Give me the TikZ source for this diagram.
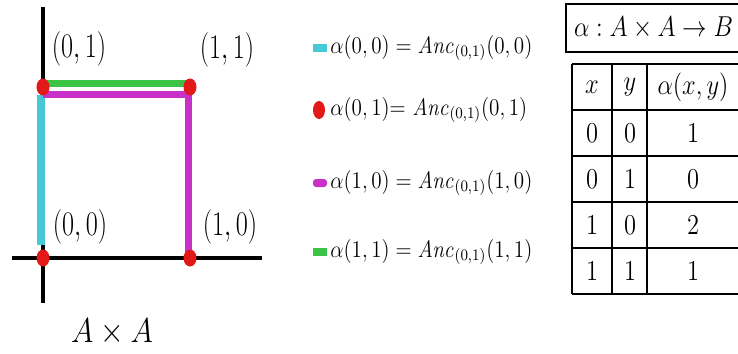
\documentclass[tikz,border=0pt]{standalone}
\usepackage{amsmath,amssymb}
\usepackage{graphicx}
\usepackage{xcolor}
\usepackage{tikz}
\usetikzlibrary{shapes.geometric,positioning}
\definecolor{edgecyan}{RGB}{70,200,215}
\definecolor{edgemag}{RGB}{200,50,200}
\definecolor{edgegreen}{RGB}{60,195,70}
\definecolor{dotred}{RGB}{225,25,25}
\newcommand{\narrowtext}[2][0.8]{\scalebox{#1}[1]{#2}}
\tikzset{
  axisline/.style={line width=2pt, black},
  edgeline/.style={line width=3.5pt},
  ptdot/.style={ellipse, fill=dotred, inner sep=0pt, minimum width=6.5pt, minimum height=8.5pt},
  ptlabel/.style={font=\fontsize{16}{18}\selectfont, inner sep=0pt},
  legmark/.style={rectangle, inner sep=0pt, minimum width=7pt, minimum height=4pt},
  legtext/.style={font=\fontsize{11.5}{13}\selectfont, anchor=west, inner sep=0pt},
  cellnum/.style={font=\fontsize{15}{17}\selectfont, inner sep=0pt},
  tabline/.style={line width=1pt}
}
\begin{document}
\begin{tikzpicture}[x=0.5pt, y=-0.5pt]
\useasboundingbox (0,0) rectangle (738,353);
% axes of A x A
\coordinate (ytop) at (43,7);
\coordinate (ybot) at (43,303);
\coordinate (xleft) at (12,258);
\coordinate (xright) at (262,258);
\draw[axisline] (ytop) -- (ybot);
\draw[axisline] (xleft) -- (xright);
% the four points
\coordinate (c00) at (43,258);
\coordinate (c01) at (43,87);
\coordinate (c10) at (190,258);
\coordinate (c11) at (190,87);
\draw[edgeline, line width=4pt, edgecyan] ([xshift=-1pt,yshift=-4pt]c01) -- ([xshift=-1pt,yshift=6.5pt]c00);
\draw[edgeline, edgegreen] ([yshift=1.5pt]c01) -- ([yshift=1.5pt]c11);
\draw[edgeline, edgemag] ([yshift=-4pt]c01) -- ([xshift=-1pt,yshift=-4pt]c11) -- ([xshift=-1pt]c10);
\node[ptdot] (p00) at (c00) {};
\node[ptdot] (p01) at (c01) {};
\node[ptdot] (p10) at (c10) {};
\node[ptdot] (p11) at (c11) {};
\node[ptlabel] (l01) at (79,49) {\narrowtext[0.76]{$(0,1)$}};
\node[ptlabel] (l11) at (227,50) {\narrowtext[0.76]{$(1,1)$}};
\node[ptlabel] (l00) at (80,227) {\narrowtext[0.76]{$(0,0)$}};
\node[ptlabel] (l10) at (230,227) {\narrowtext[0.76]{$(1,0)$}};
\node[font=\fontsize{16.5}{18}\selectfont] (prod) at (112,332) {\narrowtext[0.88]{$A\times A$}};
% legend
\node[legmark, fill=edgecyan] (m00) at (320,48) {};
\node[ptdot, minimum width=6pt, minimum height=9pt] (m01) at (319,110) {};
\node[legmark, fill=edgemag, rounded corners=1.5pt] (m10) at (320,183) {};
\node[legmark, fill=edgegreen] (m11) at (320,252) {};
\node[legtext] (t00) at (330,48) {\narrowtext[0.88]{$\alpha(0,0) = \mathit{Anc}_{(0,1)}(0,0)$}};
\node[legtext] (t01) at (330,110) {\narrowtext[0.88]{$\alpha(0,1){=}\ \mathit{Anc}_{(0,1)}(0,1)$}};
\node[legtext] (t10) at (330,183) {\narrowtext[0.88]{$\alpha(1,0) = \mathit{Anc}_{(0,1)}(1,0)$}};
\node[legtext] (t11) at (330,252) {\narrowtext[0.88]{$\alpha(1,1) = \mathit{Anc}_{(0,1)}(1,1)$}};
% table of alpha
\node[draw, line width=1pt, anchor=north west, minimum height=24pt, inner xsep=4pt,
      text width=96pt, align=left,
      font=\fontsize{15}{17}\selectfont] (head) at (565,3) {\narrowtext[0.85]{$\alpha : A\times A\rightarrow B$}};
\foreach \yy in {64,110,156,202,248,294}
  \draw[tabline] (572,\yy) -- (760,\yy);
\foreach \xx in {572,612,647}
  \draw[tabline, line width=0.8pt] (\xx,64) -- (\xx,294);
\node[cellnum] (hx) at (592,87) {\narrowtext[0.85]{$x$}};
\node[cellnum] (hy) at (630,87) {\narrowtext[0.85]{$y$}};
\node[cellnum] (ha) at (693,87) {\narrowtext[0.85]{$\alpha(x,y)$}};
\foreach \a/\b/\v [count=\r] in {0/0/1, 0/1/0, 1/0/2, 1/1/1} {
  \node[cellnum] (x\r) at (592,87+46*\r) {\narrowtext[0.85]{$\a$}};
  \node[cellnum] (y\r) at (630,87+46*\r) {\narrowtext[0.85]{$\b$}};
  \node[cellnum] (v\r) at (693,87+46*\r) {\narrowtext[0.85]{$\v$}};
}
\end{tikzpicture}
\end{document}
